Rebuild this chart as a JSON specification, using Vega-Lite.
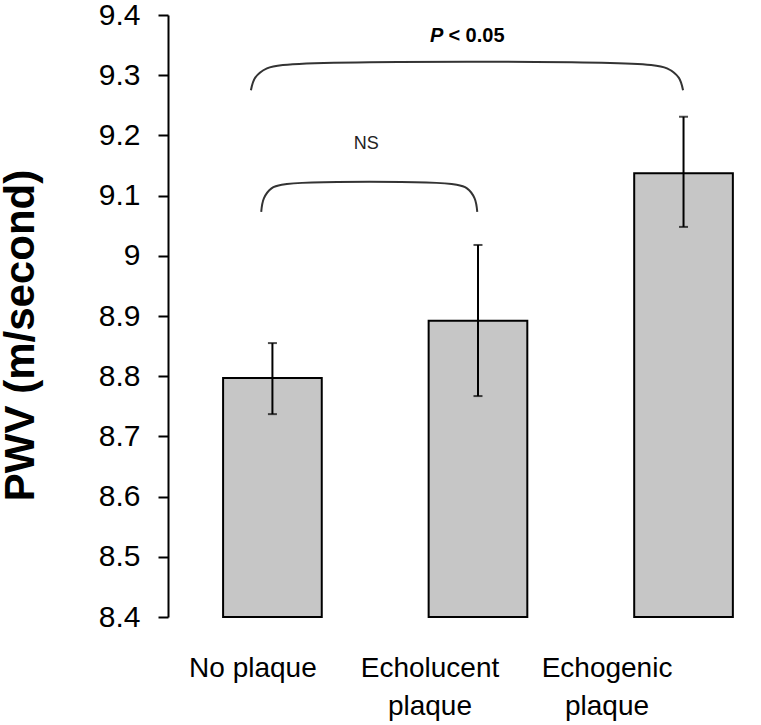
{
  "$schema": "https://vega.github.io/schema/vega-lite/v6.json",
  "width": 592,
  "height": 602,
  "autosize": {"type": "none"},
  "padding": {"left": 168, "top": 15, "right": 1, "bottom": 108},
  "background": "white",
  "config": {
    "view": {"stroke": null},
    "font": "Liberation Sans"
  },
  "datasets": {
    "main": [
      {"cat": "No plaque", "label": "No plaque", "pwv": 8.797, "lo": 8.737, "hi": 8.855},
      {"cat": "Echolucent plaque", "label": "Echolucent\nplaque", "pwv": 8.892, "lo": 8.767, "hi": 9.018},
      {"cat": "Echogenic plaque", "label": "Echogenic\nplaque", "pwv": 9.137, "lo": 9.048, "hi": 9.231}
    ],
    "brackets": [
      {"b": "all", "o": 1, "x": 0.900, "y": 9.275},
      {"b": "all", "o": 2, "x": 0.921, "y": 9.296},
      {"b": "all", "o": 3, "x": 0.978, "y": 9.3114},
      {"b": "all", "o": 4, "x": 1.056, "y": 9.317},
      {"b": "all", "o": 5, "x": 2.844, "y": 9.317},
      {"b": "all", "o": 6, "x": 2.922, "y": 9.3114},
      {"b": "all", "o": 7, "x": 2.979, "y": 9.296},
      {"b": "all", "o": 8, "x": 3.000, "y": 9.275},
      {"b": "ns", "o": 1, "x": 0.950, "y": 9.073},
      {"b": "ns", "o": 2, "x": 0.963, "y": 9.0955},
      {"b": "ns", "o": 3, "x": 1.000, "y": 9.112},
      {"b": "ns", "o": 4, "x": 1.050, "y": 9.118},
      {"b": "ns", "o": 5, "x": 1.900, "y": 9.118},
      {"b": "ns", "o": 6, "x": 1.950, "y": 9.112},
      {"b": "ns", "o": 7, "x": 1.987, "y": 9.0955},
      {"b": "ns", "o": 8, "x": 2.000, "y": 9.073}
    ],
    "notes": [
      {"t": "P", "x": 1.845, "y": 9.365},
      {"t": "< 0.05", "x": 1.845, "y": 9.365},
      {"t": "NS", "x": 1.46, "y": 9.186}
    ]
  },
  "layer": [
    {
      "data": {"name": "main"},
      "mark": {"type": "bar", "fill": "#c6c6c6", "stroke": "black", "strokeWidth": 2},
      "encoding": {
        "x": {"field": "cat", "type": "nominal", "sort": null,
              "scale": {"type": "band", "paddingInner": 0.52, "paddingOuter": 0.2, "align": 0.67}, "axis": null},
        "y": {"field": "pwv", "type": "quantitative",
              "scale": {"domain": [8.4, 9.4], "zero": false, "nice": false},
              "axis": {
                "values": [8.4, 8.5, 8.6, 8.7, 8.8, 8.9, 9.0, 9.1, 9.2, 9.3, 9.4],
                "labelExpr": "format(datum.value, '.1~f')",
                "title": "PWV (m/second)",
                "titleFont": "Liberation Sans",
                "titleFontSize": 42,
                "titleFontWeight": "bold",
                "titleColor": "black",
                "titleX": -148,
                "titleY": 320,
                "titleAlign": "center",
                "titleBaseline": "middle",
                "titleAngle": -90,
                "labelFont": "Liberation Sans",
                "labelFontSize": 30,
                "labelColor": "black",
                "labelPadding": 18,
                "tickSize": 10,
                "tickColor": "black",
                "tickWidth": 2,
                "domainColor": "black",
                "domainWidth": 2,
                "grid": false
              }},
        "y2": {"datum": 8.4}
      }
    },
    {
      "data": {"name": "main"},
      "mark": {"type": "errorbar", "color": "black", "ticks": {"size": 9, "thickness": 2, "color": "black"}, "rule": {"strokeWidth": 2}},
      "encoding": {
        "x": {"field": "cat", "type": "nominal", "sort": null,
              "scale": {"type": "band", "paddingInner": 0.52, "paddingOuter": 0.2, "align": 0.67}, "axis": null},
        "y": {"field": "lo", "type": "quantitative", "title": "PWV (m/second)"},
        "y2": {"field": "hi"}
      }
    },
    {
      "data": {"name": "main"},
      "mark": {"type": "text", "baseline": "alphabetic", "align": "center", "dy": 60, "fontSize": 28, "lineHeight": 38, "lineBreak": "\n", "color": "black", "font": "Liberation Sans"},
      "encoding": {
        "x": {"field": "cat", "type": "nominal", "sort": null,
              "scale": {"type": "point", "padding": 0.672, "align": 0.357}, "axis": null},
        "y": {"datum": 8.4},
        "text": {"field": "label"}
      }
    },
    {
      "data": {"name": "brackets"},
      "mark": {"type": "line", "interpolate": "catmull-rom", "color": "#333333", "strokeWidth": 2},
      "encoding": {
        "x": {"field": "x", "type": "quantitative", "scale": {"domain": [0.497, 3.374], "nice": false, "zero": false}, "axis": null},
        "y": {"field": "y", "type": "quantitative", "title": "PWV (m/second)"},
        "detail": {"field": "b"},
        "order": {"field": "o"}
      }
    },
    {
      "data": {"name": "notes"},
      "transform": [{"filter": "datum.t == 'P'"}],
      "mark": {"type": "text", "align": "right", "baseline": "middle", "dx": -2, "fontSize": 20, "fontWeight": "bold", "fontStyle": "italic", "color": "black", "font": "Liberation Sans"},
      "encoding": {
        "x": {"field": "x", "type": "quantitative", "scale": {"domain": [0.497, 3.374], "nice": false, "zero": false}, "axis": null},
        "y": {"field": "y", "type": "quantitative", "title": "PWV (m/second)"},
        "text": {"field": "t"}
      }
    },
    {
      "data": {"name": "notes"},
      "transform": [{"filter": "datum.t == '< 0.05'"}],
      "mark": {"type": "text", "align": "left", "baseline": "middle", "dx": 3, "fontSize": 20, "fontWeight": "bold", "color": "black", "font": "Liberation Sans"},
      "encoding": {
        "x": {"field": "x", "type": "quantitative", "scale": {"domain": [0.497, 3.374], "nice": false, "zero": false}, "axis": null},
        "y": {"field": "y", "type": "quantitative", "title": "PWV (m/second)"},
        "text": {"field": "t"}
      }
    },
    {
      "data": {"name": "notes"},
      "transform": [{"filter": "datum.t == 'NS'"}],
      "mark": {"type": "text", "align": "center", "baseline": "middle", "fontSize": 18, "color": "#222222", "font": "Liberation Sans"},
      "encoding": {
        "x": {"field": "x", "type": "quantitative", "scale": {"domain": [0.497, 3.374], "nice": false, "zero": false}, "axis": null},
        "y": {"field": "y", "type": "quantitative", "title": "PWV (m/second)"},
        "text": {"field": "t"}
      }
    }
  ],
  "resolve": {"scale": {"x": "independent"}}
}
